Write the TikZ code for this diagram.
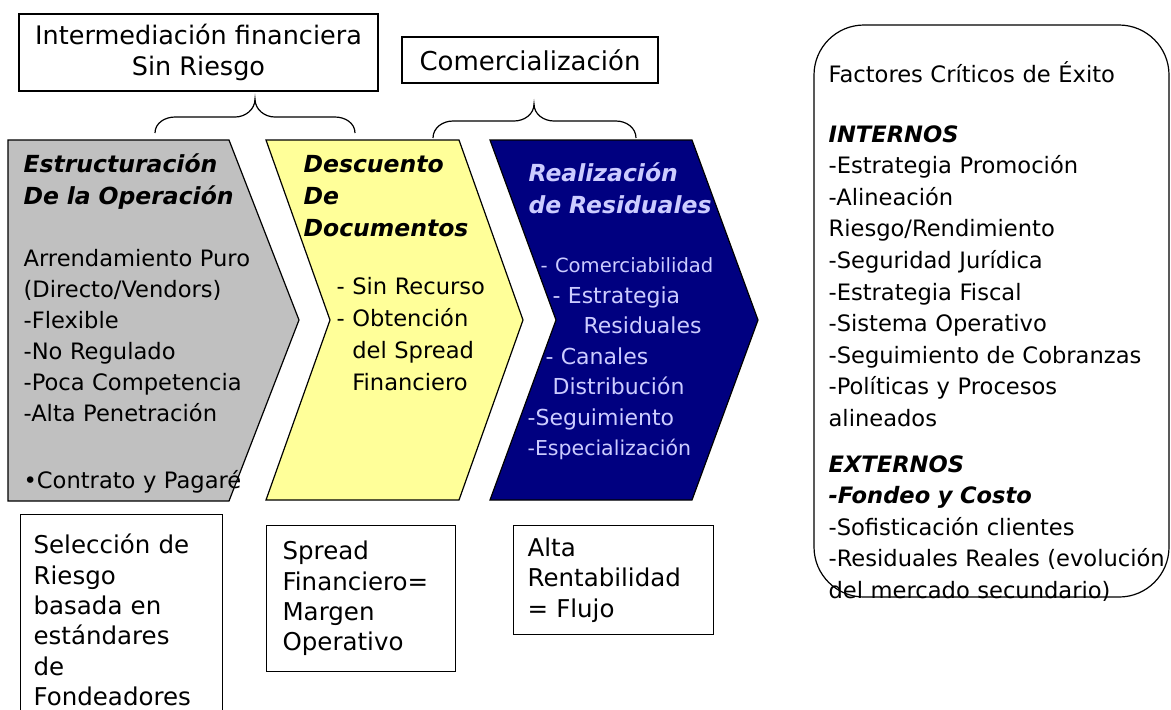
\documentclass[tikz,border=0pt]{standalone}
\usepackage{fontspec}
\setmainfont{DejaVu Sans}
\usepackage{tikz}
\usetikzlibrary{positioning}
\definecolor{grisop}{RGB}{192,192,192}
\definecolor{amarillop}{RGB}{255,255,153}
\definecolor{marino}{RGB}{0,0,128}
\definecolor{lila}{RGB}{204,204,255}
\tikzset{
  texto/.style={anchor=base west, inner sep=0pt, align=left, text width=#1},
  titulo/.style={font=\fontsize{11.75}{16}\selectfont\bfseries\itshape},
  cuerpo/.style={font=\fontsize{11.3}{15.5}\selectfont},
  etiqueta/.style={draw, inner sep=0pt, align=center},
  caja/.style={draw, anchor=north west, align=left, font=\fontsize{12.25}{15.2}\selectfont},
  etapa/.style={draw, line width=0.6pt},
}

\begin{document}
\begin{tikzpicture}[x=0.5pt, y=-0.5pt, line width=0.6pt]
          \useasboundingbox (0,0) rectangle (1171,709);
          \node [etiqueta, font=\fontsize{12.75}{15.5}\selectfont, minimum width=179.5pt, minimum height=38.5pt] (inter) at (198.5,52.5) {Intermediación financiera\\Sin Riesgo};
          \node [etiqueta, font=\fontsize{13}{15}\selectfont, minimum width=128pt, minimum height=23pt] (comer) at (530,60) {Comercialización};
          \draw (155,133) to[out=90,in=180] (175,117) -- (235,117) to[out=0,in=-90] (255,99)
                to[out=-90,in=180] (275,117) -- (335,117) to[out=0,in=90] (355,133);
          \draw (433,138) to[out=90,in=180] (453,121) -- (514,121) to[out=0,in=-90] (534,104)
                to[out=-90,in=180] (554,121) -- (616,121) to[out=0,in=90] (636,138);
          % etapas
          \filldraw [etapa, fill=grisop] (8,140) -- (229,140) -- (299,320) -- (229,501) -- (8,501) -- cycle;
          \filldraw [etapa, fill=amarillop] (266,140) -- (459,140) -- (523,320) -- (459,500) -- (266,500) -- (330,320) -- cycle;
          \filldraw [etapa, fill=marino] (490,140) -- (692,140) -- (758,320) -- (692,500) -- (490,500) -- (556,320) -- cycle;
          \node [texto=130pt, titulo] (estT) at (23,172) {Estructuración\\De la Operación};
          \node [texto=130pt, cuerpo] (estB) at (23,266) {Arrendamiento Puro\\(Directo/Vendors)\\-Flexible\\-No Regulado\\-Poca Competencia\\-Alta Penetración\\[18pt]•Contrato y Pagaré};
          \node [texto=110pt, titulo] (desT) at (303,172) {Descuento\\De\\Documentos};
          \node [texto=110pt, cuerpo, font=\fontsize{11.3}{16}\selectfont] (desB) at (336,294) {- Sin Recurso\\- Obtención\\\phantom{- }del Spread\\\phantom{- }Financiero};
          \node [texto=110pt, titulo, text=lila] (resT) at (528,181) {Realización\\de Residuales};
          \node [texto=120pt, font=\fontsize{11}{15.25}\selectfont, text=lila] (resB) at (527,272.5) {\hspace*{6.5pt}{\fontsize{9.8}{15.25}\selectfont - Comerciabilidad}\\\hspace*{12.5pt}- Estrategia\\\hspace*{28pt}Residuales\\\hspace*{9pt}- Canales\\\hspace*{12.5pt}Distribución\\-Seguimiento\\{\fontsize{10.25}{15.25}\selectfont -Especialización}};
          % factores
          \draw [rounded corners=25pt] (814,25) rectangle (1169,597);
          \node [texto=200pt, font=\fontsize{11.3}{15.8}\selectfont] (factores) at (828,82) {Factores Críticos de Éxito\\[14.25pt]\textbf{\textit{INTERNOS}}\\-Estrategia Promoción\\-Alineación\\Riesgo/Rendimiento\\-Seguridad Jurídica\\-Estrategia Fiscal\\-Sistema Operativo\\-Seguimiento de Cobranzas\\-Políticas y Procesos\\alineados\\[7pt]\textbf{\textit{EXTERNOS}}\\\textbf{\textit{-Fondeo y Costo}}\\-Sofisticación clientes\\-Residuales Reales (evolución\\del mercado secundario)};
          % resultados
          \node [caja, inner xsep=6.5pt, inner ysep=9.7pt, text width=88pt] (seleccion) at (20,514) {Selección de\\Riesgo\\basada en\\estándares\\de\\Fondeadores};
          \node [caja, inner xsep=8pt, inner ysep=7.7pt, text width=78.5pt] (spread) at (266,525) {Spread\\Financiero=\\Margen\\Operativo};
          \node [caja, inner xsep=7pt, inner ysep=6pt, text width=86pt] (alta) at (513,525) {Alta\\Rentabilidad\\= Flujo};
        \end{tikzpicture}
\end{document}
